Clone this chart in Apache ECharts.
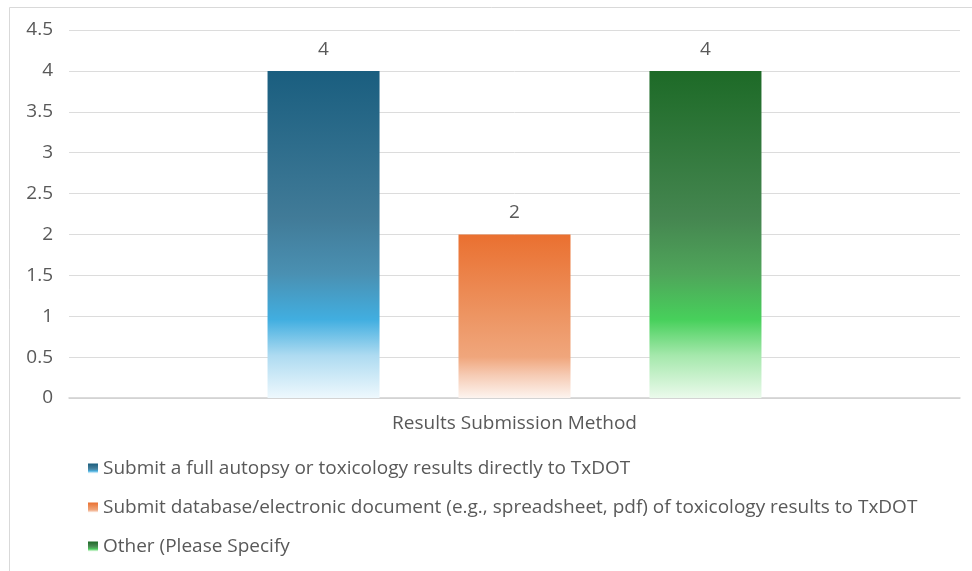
<!DOCTYPE html>
<html>
<head>
<meta charset="utf-8">
<script src="https://cdn.jsdelivr.net/npm/echarts@6/dist/echarts.min.js"></script>
<style>
  html, body { margin: 0; padding: 0; background: #ffffff; }
  #chart { width: 972px; height: 571px; }
</style>
</head>
<body>
<div id="chart"></div>
<script>
// Survey responses: how results are submitted
const categories = ['Results Submission Method'];
const seriesNames = [
  'Submit a full autopsy or toxicology results directly to TxDOT',
  'Submit database/electronic document (e.g., spreadsheet, pdf) of toxicology results to TxDOT',
  'Other (Please Specify'
];
const fullAutopsy = [4];
const electronicDoc = [2];
const otherSpecify = [4];
const yTicks = { min: 0, max: 4.5, interval: 0.5 };

const FONT = '"Open Sans", "Noto Sans", sans-serif';
const TEXT = '#595959';
const FS = 19;

function grad(stops) {
  return new echarts.graphic.LinearGradient(0, 0, 0, 1,
    stops.map(([o, c]) => ({ offset: o, color: c })));
}

// vertical fills: dark at the top, a bright band near the base, fading out
const palettes = [
  grad([[0, '#1a5e7f'], [0.45, '#417b98'], [0.62, '#4a90b2'], [0.76, '#41aee0'], [0.87, '#aedbf1'], [1, '#eef8fd']]),
  grad([[0, '#ea7030'], [0.5, '#ed9563'], [0.75, '#f0a67c'], [0.86, '#f6cbb4'], [1, '#fdf4ef']]),
  grad([[0, '#1d6a27'], [0.45, '#458650'], [0.62, '#4fa55a'], [0.76, '#47d05b'], [0.87, '#a5e8ac'], [1, '#ebfaec']])
];

const values = [fullAutopsy, electronicDoc, otherSpecify];

const chart = echarts.init(document.getElementById('chart'), null, { renderer: 'canvas' });

chart.setOption({
  animation: false,
  backgroundColor: '#ffffff',
  textStyle: { fontFamily: FONT },
  graphic: [{
    type: 'rect',
    shape: { x: 9.5, y: 7.5, width: 1000, height: 700 },
    style: { fill: 'none', stroke: '#d9d9d9', lineWidth: 1 },
    silent: true, z: -1
  }],
  grid: { left: 69, right: 12, top: 30, bottom: 173, containLabel: false },
  legend: {
    orient: 'vertical',
    left: 88,
    top: 459,
    padding: 0,
    itemWidth: 10,
    itemHeight: 10,
    itemGap: 20,
    icon: 'rect',
    textStyle: { color: TEXT, fontSize: FS, lineHeight: 19, fontFamily: FONT },
    data: seriesNames
  },
  xAxis: {
    type: 'category',
    data: categories,
    axisTick: { show: false },
    axisLine: { lineStyle: { color: '#d0d0d0', width: 1.5 } },
    axisLabel: { color: TEXT, fontSize: FS, margin: 16, fontFamily: FONT }
  },
  yAxis: {
    type: 'value',
    min: yTicks.min,
    max: yTicks.max,
    interval: yTicks.interval,
    axisLine: { show: false },
    axisTick: { show: false },
    splitLine: { lineStyle: { color: '#dcdcdc', width: 1 } },
    axisLabel: { color: TEXT, fontSize: FS, margin: 16, fontFamily: FONT }
  },
  series: seriesNames.map((name, i) => ({
    name,
    type: 'bar',
    data: values[i],
    barWidth: 112,
    barGap: '70.5%',
    itemStyle: { color: palettes[i] },
    label: {
      show: true,
      position: 'top',
      distance: 12,
      color: TEXT,
      fontSize: FS,
      fontFamily: FONT
    }
  }))
});
</script>
</body>
</html>
